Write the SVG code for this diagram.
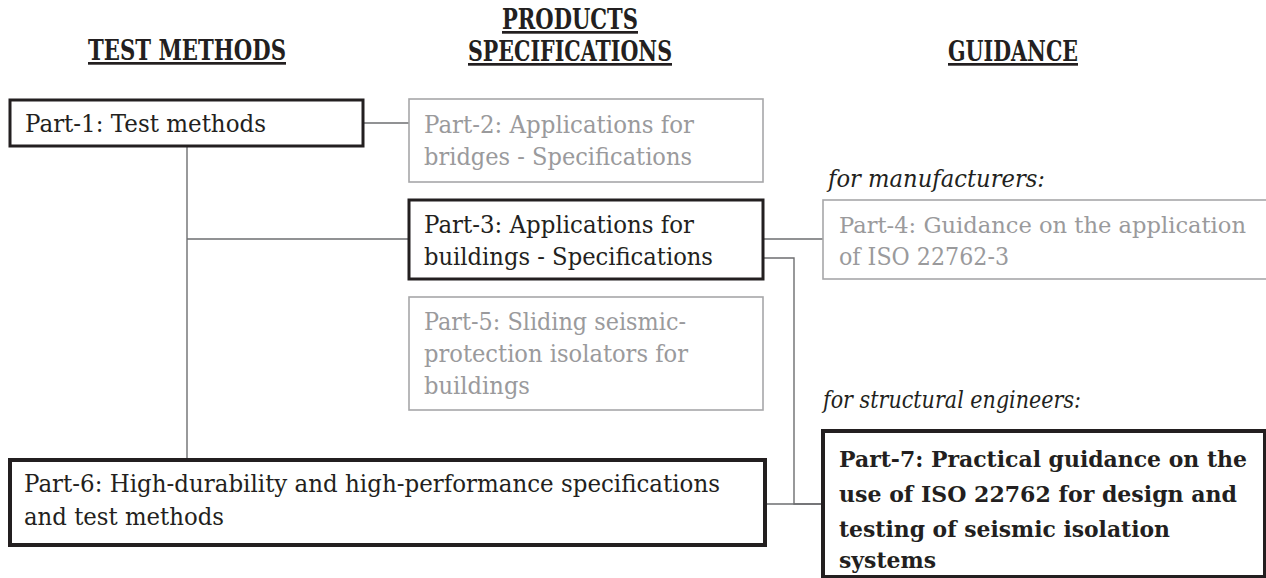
<svg xmlns="http://www.w3.org/2000/svg" width="1266" height="578" viewBox="0 0 1266 578">
<style>
  .bg{fill:#ffffff}
  .hdr{font-family:"DejaVu Serif","Liberation Serif",serif;font-weight:bold;font-size:27px;fill:#231f20;text-decoration:underline}
  .t{font-family:"DejaVu Serif","Liberation Serif",serif;font-size:24px;fill:#231f20}
  .g{font-family:"DejaVu Serif","Liberation Serif",serif;font-size:24px;fill:#9a9a9c}
  .g4{font-family:"DejaVu Serif","Liberation Serif",serif;font-size:22.5px;fill:#9a9a9c}
  .b{font-family:"DejaVu Serif","Liberation Serif",serif;font-size:22.5px;font-weight:bold;fill:#231f20}
  .it{font-family:"DejaVu Serif","Liberation Serif",serif;font-size:24px;font-style:italic;fill:#231f20}
  .dark{fill:#ffffff;stroke:#231f20;stroke-width:3}
  .darker{fill:#ffffff;stroke:#231f20;stroke-width:4}
  .light{fill:#ffffff;stroke:#a7a7a9;stroke-width:1.6}
  .conn{fill:none;stroke:#6d6e70;stroke-width:1.4}
</style>
<rect class="bg" x="0" y="0" width="1266" height="578"/>

<g id="headers">
  <text class="hdr" x="88" y="60" textLength="198" lengthAdjust="spacingAndGlyphs">TEST METHODS</text>
  <text class="hdr" x="502" y="29" textLength="136" lengthAdjust="spacingAndGlyphs">PRODUCTS</text>
  <text class="hdr" x="468" y="61" textLength="204" lengthAdjust="spacingAndGlyphs">SPECIFICATIONS</text>
  <text class="hdr" x="948" y="61" textLength="130" lengthAdjust="spacingAndGlyphs">GUIDANCE</text>
</g>

<g id="connectors">
  <line class="conn" x1="363" y1="123" x2="409" y2="123"/>
  <line class="conn" x1="187" y1="146" x2="187" y2="460"/>
  <line class="conn" x1="187" y1="239" x2="409" y2="239"/>
  <line class="conn" x1="763" y1="239" x2="823" y2="239"/>
  <polyline class="conn" points="763,258 794,258 794,504 823,504"/>
  <line class="conn" x1="765" y1="504" x2="823" y2="504"/>
</g>

<g id="part1">
  <rect class="dark" x="10" y="100" width="353" height="46"/>
  <text class="t" x="25" y="132" textLength="241" lengthAdjust="spacingAndGlyphs">Part-1: Test methods</text>
</g>

<g id="part2">
  <rect class="light" x="409" y="99" width="354" height="83"/>
  <text class="g" x="424" y="133" textLength="270" lengthAdjust="spacingAndGlyphs">Part-2: Applications for</text>
  <text class="g" x="424" y="165" textLength="268" lengthAdjust="spacingAndGlyphs">bridges - Specifications</text>
</g>

<g id="part3">
  <rect class="dark" x="409" y="200" width="354" height="79"/>
  <text class="t" x="424" y="233" textLength="270" lengthAdjust="spacingAndGlyphs">Part-3: Applications for</text>
  <text class="t" x="424" y="265" textLength="289" lengthAdjust="spacingAndGlyphs">buildings - Specifications</text>
</g>

<g id="part5">
  <rect class="light" x="409" y="297" width="354" height="113"/>
  <text class="g" x="424" y="330" textLength="262" lengthAdjust="spacingAndGlyphs">Part-5: Sliding seismic-</text>
  <text class="g" x="424" y="362" textLength="264" lengthAdjust="spacingAndGlyphs">protection isolators for</text>
  <text class="g" x="424" y="394" textLength="106" lengthAdjust="spacingAndGlyphs">buildings</text>
</g>

<g id="part4">
  <text class="it" x="828" y="187" textLength="217" lengthAdjust="spacingAndGlyphs">for manufacturers:</text>
  <rect class="light" x="823" y="200" width="460" height="79"/>
  <text class="g4" x="839" y="233" textLength="407" lengthAdjust="spacingAndGlyphs">Part-4: Guidance on the application</text>
  <text class="g" x="839" y="265" textLength="170" lengthAdjust="spacingAndGlyphs">of ISO 22762-3</text>
</g>

<g id="part6">
  <rect class="darker" x="10" y="460" width="755" height="85"/>
  <text class="t" x="24" y="492" textLength="696" lengthAdjust="spacingAndGlyphs">Part-6: High-durability and high-performance specifications</text>
  <text class="t" x="24" y="525" textLength="200" lengthAdjust="spacingAndGlyphs">and test methods</text>
</g>

<g id="part7">
  <text class="it" x="823" y="408" textLength="258" lengthAdjust="spacingAndGlyphs">for structural engineers:</text>
  <rect class="darker" x="823" y="431" width="442" height="146"/>
  <text class="b" x="839" y="467" textLength="408" lengthAdjust="spacingAndGlyphs">Part-7: Practical guidance on the</text>
  <text class="b" x="839" y="502" textLength="398" lengthAdjust="spacingAndGlyphs">use of ISO 22762 for design and</text>
  <text class="b" x="839" y="537" textLength="331" lengthAdjust="spacingAndGlyphs">testing of seismic isolation</text>
  <text class="b" x="839" y="568" textLength="97" lengthAdjust="spacingAndGlyphs">systems</text>
</g>
</svg>
